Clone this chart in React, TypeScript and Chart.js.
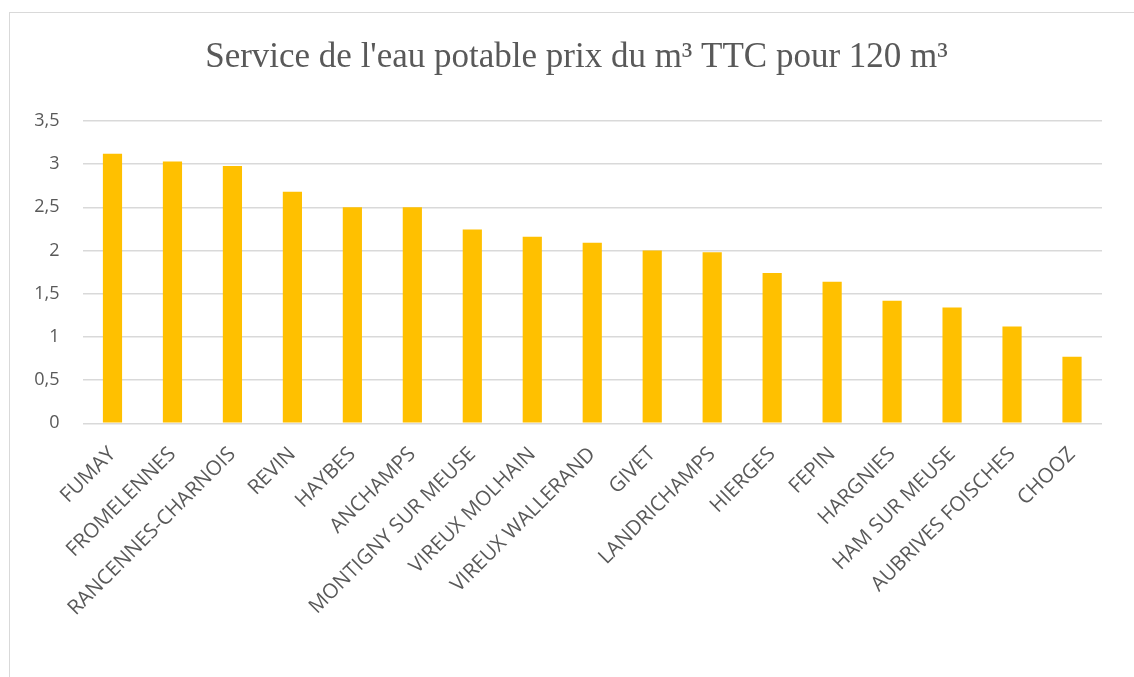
import React, { useEffect, useRef } from "react";
import { Chart, registerables } from "chart.js";

Chart.register(...registerables);

const categories = [
  "FUMAY",
  "FROMELENNES",
  "RANCENNES-CHARNOIS",
  "REVIN",
  "HAYBES",
  "ANCHAMPS",
  "MONTIGNY SUR MEUSE",
  "VIREUX MOLHAIN",
  "VIREUX WALLERAND",
  "GIVET",
  "LANDRICHAMPS",
  "HIERGES",
  "FEPIN",
  "HARGNIES",
  "HAM SUR MEUSE",
  "AUBRIVES FOISCHES",
  "CHOOZ",
];

const prices = [
  3.12, 3.03, 2.98, 2.68, 2.5, 2.5, 2.245, 2.16, 2.09, 2.0, 1.98, 1.74, 1.64,
  1.42, 1.34, 1.12, 0.77,
];

const yMin = 0;
const yMax = 3.5;
const yStep = 0.5;

const titleText = "Service de l'eau potable prix du m³ TTC pour 120 m³";

const textColor = "#595959";

const titlePlugin = {
  id: "customTitle",
  afterDraw(chart: any) {
    const ctx = chart.ctx;
    ctx.save();
    ctx.font = "normal 35px 'Liberation Serif', serif";
    ctx.fillStyle = textColor;
    ctx.textAlign = "center";
    ctx.textBaseline = "alphabetic";
    ctx.fillText(titleText, 566.5, 54);
    ctx.restore();
  },
};

export default function App() {
  const canvasRef = useRef<HTMLCanvasElement | null>(null);

  useEffect(() => {
    const canvas = canvasRef.current;
    if (!canvas) return;
    const chart = new Chart(canvas, {
      type: "bar",
      data: {
        labels: categories,
        datasets: [
          {
            data: prices,
            backgroundColor: "#FFC000",
            borderWidth: 0,
            barPercentage: 0.32,
            categoryPercentage: 1,
          },
        ],
      },
      plugins: [titlePlugin],
      options: {
        animation: false,
        responsive: false,
        maintainAspectRatio: false,
        layout: { padding: { left: 0, right: 32, top: 108, bottom: 0 } },
        plugins: {
          legend: { display: false },
          tooltip: { enabled: false },
          title: { display: false },
        },
        scales: {
          x: {
            grid: { display: false, drawTicks: false },
            border: { display: false },
            ticks: {
              color: textColor,
              font: { family: "'Open Sans', sans-serif", size: 20.5 },
              maxRotation: 45,
              minRotation: 45,
              autoSkip: false,
              padding: 19,
            },
            afterFit: (scale: any) => {
              scale.height = 253.7;
            },
          },
          y: {
            min: yMin,
            max: yMax,
            grid: { color: "#d9d9d9", lineWidth: 1.5, drawTicks: false },
            border: { display: false },
            ticks: {
              stepSize: yStep,
              color: textColor,
              font: { family: "'Open Sans', sans-serif", size: 18 },
              padding: 23,
              callback: (v: any) => String(v).replace(".", ","),
            },
            afterFit: (scale: any) => {
              scale.width = 72.5;
            },
          },
        },
      },
    });
    return () => chart.destroy();
  }, []);

  return (
    <div
      style={{
        position: "absolute",
        left: 9,
        top: 12,
        width: 1125,
        height: 665,
        borderLeft: "1px solid #d9d9d9",
        borderTop: "1px solid #d9d9d9",
        boxSizing: "border-box",
        overflow: "hidden",
        background: "#fff",
      }}
    >
      <canvas
        ref={canvasRef}
        width={1124}
        height={664}
        style={{ display: "block", width: 1124, height: 664 }}
      />
    </div>
  );
}
